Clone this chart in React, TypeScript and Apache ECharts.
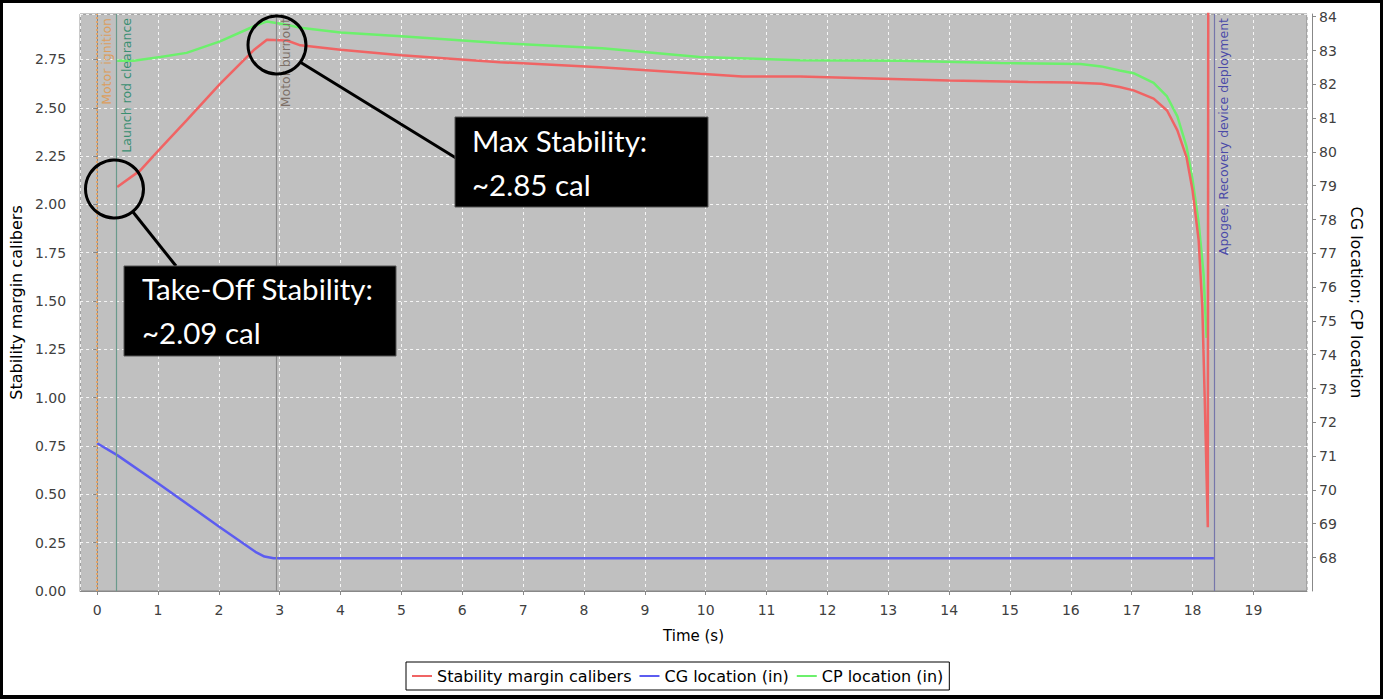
import React, { useEffect, useRef } from "react";
import * as echarts from "echarts";

// ---- data ----
const stabilityTime = [0.33, 0.71, 1.04, 1.47, 2.02, 2.57, 2.79, 3.12, 3.34, 4.0, 5.0, 6.62, 8.27, 9.09, 9.91, 10.6, 11.55, 12.6, 14.0, 15.3, 16.0, 16.5, 16.8, 17.03, 17.36, 17.58, 17.75, 17.9, 18.0, 18.1, 18.16, 18.2, 18.25, 18.26];
const stabilityValue = [2.09, 2.176, 2.29, 2.435, 2.624, 2.797, 2.852, 2.848, 2.823, 2.8, 2.771, 2.736, 2.71, 2.693, 2.676, 2.662, 2.662, 2.653, 2.641, 2.633, 2.63, 2.624, 2.607, 2.59, 2.547, 2.486, 2.383, 2.245, 2.072, 1.814, 1.467, 0.99, 0.33, 4.0];

const cgTime = [0, 0.33, 1.0, 2.0, 2.6, 2.75, 2.9, 18.35];
const cgValue = [71.38, 71.03, 70.2, 68.92, 68.17, 68.03, 67.98, 67.98];

const cpTime = [0.33, 0.6, 1.04, 1.47, 2.02, 2.57, 2.79, 3.12, 3.34, 4.0, 5.0, 6.6, 8.3, 9.9, 11.55, 13.2, 14.84, 16.16, 16.5, 16.8, 17.03, 17.36, 17.58, 17.75, 17.9, 18.0, 18.1, 18.18, 18.23];
const cpValue = [82.7, 82.7, 82.81, 82.93, 83.27, 83.71, 83.86, 83.76, 83.67, 83.53, 83.42, 83.22, 83.07, 82.81, 82.71, 82.7, 82.63, 82.6, 82.53, 82.41, 82.33, 82.04, 81.64, 81.05, 80.16, 79.17, 77.9, 76.4, 74.5];

const eventNames = ["Motor ignition", "Launch rod clearance", "Motor burnout", "Apogee, Recovery device deployment"];
const eventTimes = [0, 0.32, 2.94, 18.35];

const seriesNames = ["Stability margin calibers", "CG location (in)", "CP location (in)"];

const xRange = [-0.28, 19.88];
const leftRange = [0, 2.985];
const rightRange = [67.01, 84.08];

// ---- styles ----
const FONT = "DejaVu Sans";
const seriesColors = ["#f06464", "#5c5cf0", "#6cf06c"];
const eventLineColors = ["#e2a468", "#6a9a8c", "#8a8a8a", "#7676aa"];
const eventLabelColors = ["#dc9e5e", "#3a8f72", "#7d7068", "#4a4aa8"];
const eventLineTypes = ["dotted", "solid", "solid", "solid"];

const zip = (t: number[], v: number[]) => t.map((x, i) => [x, v[i]]);

export default function App() {
  const ref = useRef<HTMLDivElement>(null);
  useEffect(() => {
    document.body.style.margin = "0";
    const chart = echarts.init(ref.current!, null, { renderer: "svg" });
    const axisLine = { show: true, lineStyle: { color: "#888", width: 1 } };
    const axisTick = { show: true, length: 4, lineStyle: { color: "#888" } };
    const grid = { left: 80, right: 76, top: 14, bottom: 108, show: true, backgroundColor: "#c0c0c0", borderColor: "#888", borderWidth: 1 };
    const gridLine = { show: true, lineStyle: { color: "rgba(255,255,255,0.85)", type: [3, 3], width: 1 } };

    const markLineData = eventTimes.map((t, i) => ({
      xAxis: t,
      lineStyle: { color: eventLineColors[i], type: eventLineTypes[i], width: i === 0 ? 2 : 1.2 },
      label: {
        show: true,
        formatter: eventNames[i],
        position: "insideEndBottom",
        distance: [4, 3],
        color: eventLabelColors[i],
        fontFamily: FONT,
        fontSize: 12.5,
      },
    }));

    const annoText = (text: string, x: number, y: number) => ({
      type: "text",
      x,
      y,
      z: 100,
      style: {
        text,
        fill: "#fff",
        fontFamily: "Lato",
        fontSize: 29.5,
        align: "left",
        verticalAlign: "middle",
        textAlign: "left",
        textVerticalAlign: "middle",
      },
    });

    const option: any = {
      animation: false,
      backgroundColor: "#fff",
      grid,
      legend: {
        left: 406,
        top: 662,
        padding: [6, 6, 6, 6],
        itemGap: 8,
        itemWidth: 20,
        itemHeight: 2,
        icon: "rect",
        borderColor: "#000",
        borderWidth: 1,
        backgroundColor: "#fff",
        textStyle: { fontFamily: FONT, fontSize: 16, color: "#000" },
        data: seriesNames,
      },
      xAxis: {
        type: "value",
        min: xRange[0],
        max: xRange[1],
        minInterval: 1,
        maxInterval: 1,
        offset: 6,
        axisLine,
        axisTick,
        splitLine: gridLine,
        axisLabel: { showMinLabel: false, showMaxLabel: false, fontFamily: FONT, fontSize: 14, color: "#404040", margin: 6 },
        name: "Time (s)",
        nameLocation: "middle",
        nameGap: 31,
        nameTextStyle: { fontFamily: FONT, fontSize: 15, color: "#000" },
      },
      yAxis: [
        {
          type: "value",
          position: "left",
          min: leftRange[0],
          max: leftRange[1],
          minInterval: 0.25,
          maxInterval: 0.25,
          offset: 2,
          axisLine,
          axisTick,
          splitLine: gridLine,
          axisLabel: { showMaxLabel: false, fontFamily: FONT, fontSize: 14, color: "#404040", margin: 12, formatter: (v: number) => v.toFixed(2) },
          name: "Stability margin calibers",
          nameLocation: "middle",
          nameGap: 52,
          nameTextStyle: { fontFamily: FONT, fontSize: 16, color: "#000" },
        },
        {
          type: "value",
          position: "right",
          min: rightRange[0],
          max: rightRange[1],
          minInterval: 1,
          maxInterval: 1,
          offset: 5,
          axisLine,
          axisTick,
          splitLine: { show: false },
          axisLabel: { showMinLabel: false, showMaxLabel: false, fontFamily: FONT, fontSize: 14, color: "#404040", margin: 7, formatter: (v: number) => String(Math.round(v)) },
          name: "CG location; CP location",
          nameLocation: "middle",
          nameGap: 36,
          nameRotate: -90,
          nameTextStyle: { fontFamily: FONT, fontSize: 16, color: "#000" },
        },
      ],
      series: [
        {
          name: seriesNames[0],
          type: "line",
          yAxisIndex: 0,
          data: zip(stabilityTime, stabilityValue),
          showSymbol: false,
          symbol: "none",
          z: 4,
          clip: true,
          lineStyle: { color: seriesColors[0], width: 2.5 },
          itemStyle: { color: seriesColors[0] },
          markLine: { silent: true, symbol: ["none", "none"], data: markLineData, animation: false },
        },
        {
          name: seriesNames[1],
          type: "line",
          yAxisIndex: 1,
          data: zip(cgTime, cgValue),
          showSymbol: false,
          symbol: "none",
          z: 3,
          lineStyle: { color: seriesColors[1], width: 2.5 },
          itemStyle: { color: seriesColors[1] },
        },
        {
          name: seriesNames[2],
          type: "line",
          yAxisIndex: 1,
          data: zip(cpTime, cpValue),
          showSymbol: false,
          symbol: "none",
          z: 3,
          lineStyle: { color: seriesColors[2], width: 2.5 },
          itemStyle: { color: seriesColors[2] },
        },
      ],
      graphic: [
        { type: "circle", z: 100, shape: { cx: 114.5, cy: 189, r: 29 }, style: { fill: "none", stroke: "#000", lineWidth: 3 } },
        { type: "circle", z: 100, shape: { cx: 277, cy: 45, r: 29 }, style: { fill: "none", stroke: "#000", lineWidth: 3 } },
        { type: "line", z: 100, shape: { x1: 133, y1: 212, x2: 176, y2: 266 }, style: { stroke: "#000", lineWidth: 3 } },
        { type: "line", z: 100, shape: { x1: 300, y1: 62, x2: 456, y2: 158 }, style: { stroke: "#000", lineWidth: 3 } },
        { type: "rect", z: 100, shape: { x: 124, y: 266, width: 272, height: 90 }, style: { fill: "#000", stroke: "#555", lineWidth: 1 } },
        { type: "rect", z: 100, shape: { x: 455, y: 117, width: 253, height: 90 }, style: { fill: "#000", stroke: "#555", lineWidth: 1 } },
        annoText("Take-Off Stability:", 142, 288),
        annoText("~2.09 cal", 142, 332),
        annoText("Max Stability:", 472, 140),
        annoText("~2.85 cal", 472, 184),
        { type: "rect", z: 100, shape: { x: 1.5, y: 1.5, width: 1380, height: 695 }, style: { fill: "none", stroke: "#000", lineWidth: 3 } },
        { type: "rect", z: 100, shape: { x: 0, y: 695, width: 1383, height: 4 }, style: { fill: "#000" } },
      ],
    };
    chart.setOption(option);
    return () => chart.dispose();
  }, []);
  return <div ref={ref} style={{ position: "absolute", left: 0, top: 0, width: 1383, height: 699, background: "#fff" }} />;
}
